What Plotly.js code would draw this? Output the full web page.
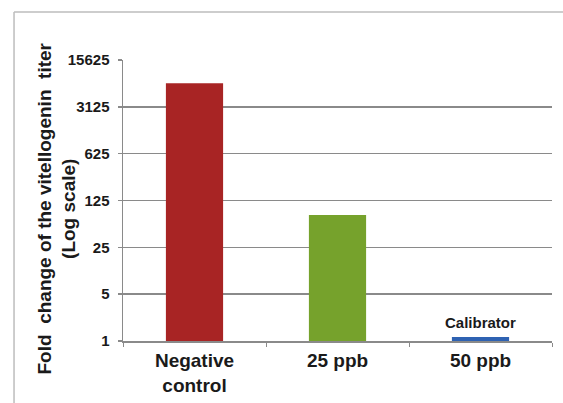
<!DOCTYPE html>
<html>
<head>
<meta charset="utf-8">
<script src="https://cdn.plot.ly/plotly-3.0.1.min.js"></script>
<style>html,body{margin:0;padding:0;background:#fff;}#chart{width:563px;height:403px;}</style>
</head>
<body>
<div id="chart"></div>
<script>
const categories = ["Negative<br>control", "25 ppb", "50 ppb"];
const foldChange = [7000, 76, 1.15];
const barColors = ["#a82424", "#76a22c", "#2e62b2"];
const yTickVals = [1, 5, 25, 125, 625, 3125, 15625];
const yTickText = ["1", "5", "25", "125", "625", "3125", "15625"];
const calibratorLabel = "Calibrator";
const yTitle = "Fold  change of the vitellogenin  titer<br>(Log scale)";

const font = "Liberation Sans, Arial, sans-serif";

const trace = {
  type: "bar",
  x: categories,
  y: foldChange,
  marker: { color: barColors },
  hoverinfo: "x+y"
};

const layout = {
  width: 563, height: 403,
  margin: { l: 123, r: 11, t: 60, b: 62 },
  paper_bgcolor: "#fff", plot_bgcolor: "#fff",
  showlegend: false,
  bargap: 0.6,
  font: { family: font, color: "#1a1a1a" },
  xaxis: {
    type: "category",
    tickmode: "array",
    tickvals: categories,
    ticktext: categories,
    tickfont: { family: font, size: 19, color: "#1a1a1a", weight: "bold" },
    showline: true, linecolor: "#8a8a8a", linewidth: 1.5,
    ticks: "outside", tickson: "boundaries", ticklen: 4, tickcolor: "#8a8a8a", tickwidth: 1,
    showgrid: false, zeroline: false,
    ticklabelstandoff: 2
  },
  yaxis: {
    type: "log",
    range: [0, Math.log10(15625)],
    tickmode: "array",
    tickvals: yTickVals,
    ticktext: yTickText,
    tickfont: { family: font, size: 15, color: "#1a1a1a", weight: "bold" },
    showline: true, linecolor: "#8a8a8a", linewidth: 1.5,
    ticks: "outside", ticklen: 4, tickcolor: "#8a8a8a", tickwidth: 1.5,
    showgrid: true, gridcolor: "#8a8a8a", gridwidth: 1.5,
    zeroline: false,
    ticklabelstandoff: 5
  },
  annotations: [
    {
      xref: "x", yref: "y",
      x: categories[2], y: Math.log10(foldChange[2]),
      text: calibratorLabel,
      showarrow: false,
      yanchor: "bottom", yshift: 4,
      font: { family: font, size: 15, color: "#1a1a1a", weight: "bold" }
    },
    {
      xref: "paper", yref: "paper",
      x: 0, y: 0.5,
      xanchor: "center", yanchor: "middle",
      xshift: -67, yshift: -8,
      textangle: -90,
      text: yTitle,
      showarrow: false,
      font: { family: font, size: 19, color: "#1a1a1a", weight: "bold" }
    }
  ],
  shapes: [
    { type: "line", xref: "paper", yref: "paper", x0: -0.254, x1: 1.2, y0: 1.171, y1: 1.171,
      line: { color: "#bdbdbd", width: 1.5 } },
    { type: "line", xref: "paper", yref: "paper", x0: -0.254, x1: -0.254, y0: 1.171, y1: -0.3,
      line: { color: "#bdbdbd", width: 1.5 } }
  ]
};

Plotly.newPlot("chart", [trace], layout, { displayModeBar: false, staticPlot: true });
</script>
</body>
</html>
